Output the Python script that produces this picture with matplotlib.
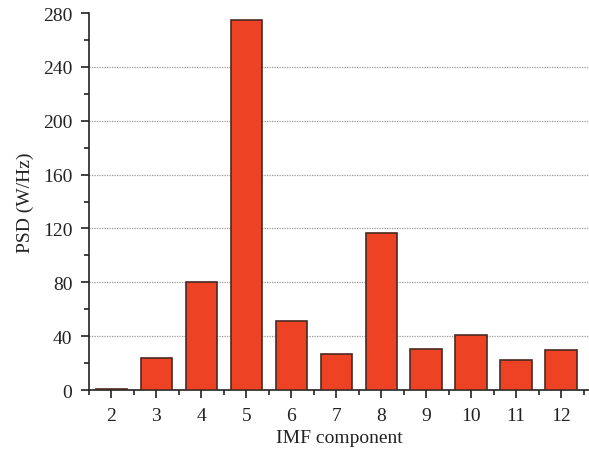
import matplotlib
matplotlib.use('Agg')
import matplotlib.pyplot as plt
from matplotlib.ticker import MultipleLocator

plt.rcParams['font.family'] = ['Liberation Serif', 'DejaVu Serif']

components = [2, 3, 4, 5, 6, 7, 8, 9, 10, 11, 12]
psd = [1, 24, 80, 275, 51, 27, 117, 30.5, 41, 22, 30]
grid_levels = [40, 80, 120, 160, 200, 240]

fig = plt.figure(figsize=(5.89, 4.56), dpi=100)
ax = fig.add_axes([0.151, 0.1425, 0.849, 0.8265])

ax.bar(components, psd, width=0.7, color='#ee4225', edgecolor='#4a2a22',
       linewidth=1.2, zorder=3)

ax.set_xlim(1.5, 12.62)
ax.set_ylim(0, 280)
ax.set_xticks(components)
ax.xaxis.set_minor_locator(MultipleLocator(0.5))
ax.yaxis.set_major_locator(MultipleLocator(40))
ax.yaxis.set_minor_locator(MultipleLocator(20))

# dotted horizontal guides (none at the top of the axis)
for g in grid_levels:
    ax.axhline(g, linestyle=(0, (1, 1)), color='#999999', linewidth=0.9,
               zorder=0)

for s in ['top', 'right']:
    ax.spines[s].set_visible(False)
for s in ['left', 'bottom']:
    ax.spines[s].set_color('#222222')
    ax.spines[s].set_linewidth(1.2)

ax.tick_params(which='major', direction='out', length=6, width=1.2,
               labelsize=14, colors='#222222', pad=6)
ax.tick_params(which='minor', direction='out', length=3.5, width=1.2,
               colors='#222222')

ax.set_xlabel('IMF component', fontsize=14, color='#222222', labelpad=4)
ax.set_ylabel('PSD (W/Hz)', fontsize=14, color='#222222', labelpad=6)

fig.savefig('out.png', dpi=100)
plt.close(fig)
